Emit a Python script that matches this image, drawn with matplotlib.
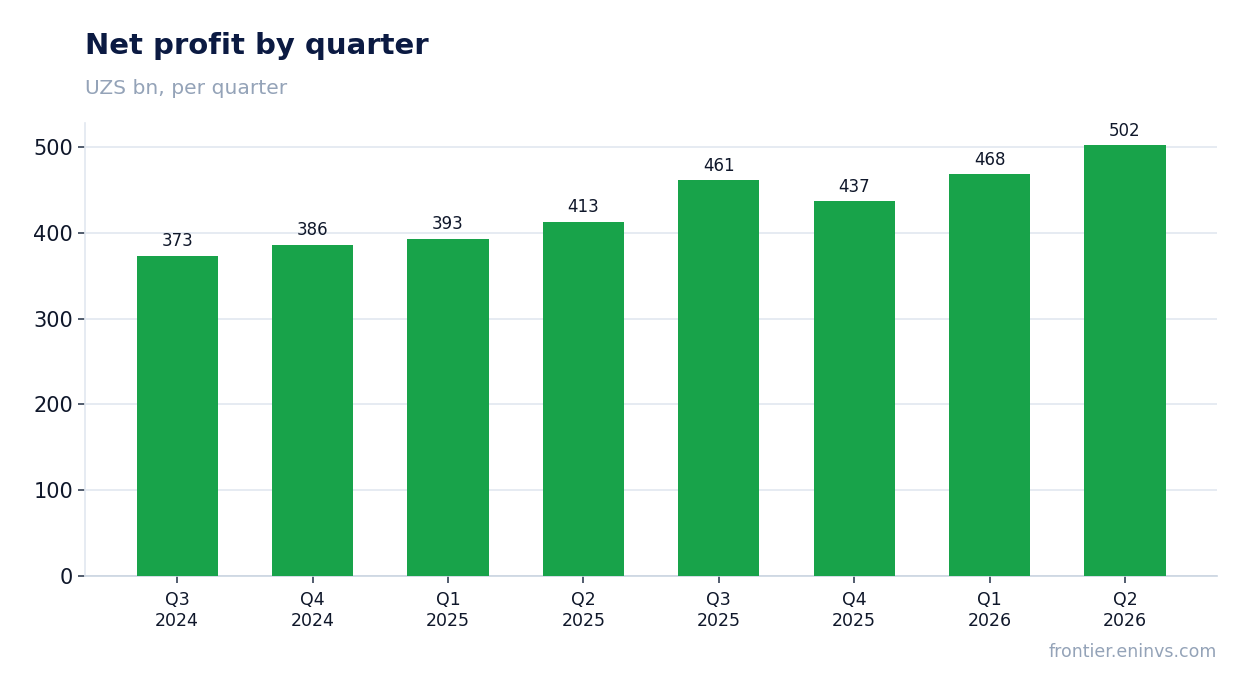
import matplotlib
matplotlib.use("Agg")
import matplotlib.pyplot as plt

categories = ["Q3\n2024", "Q4\n2024", "Q1\n2025", "Q2\n2025", "Q3\n2025", "Q4\n2025", "Q1\n2026", "Q2\n2026"]
values = [373, 386, 393, 413, 461, 437, 468, 502]
yticks = [0, 100, 200, 300, 400, 500]

fig = plt.figure(figsize=(12.47, 6.93), dpi=100)
ax = fig.add_axes([0.0682, 0.1690, 0.976 - 0.0682, 0.8225 - 0.1690])

x = list(range(len(categories)))
bars = ax.bar(x, values, width=0.6, color="#18A34A", zorder=3)
for xi, v in zip(x, values):
    ax.annotate(f"{v}", (xi, v), xytext=(0, 4), textcoords="offset points",
                ha="center", va="bottom", fontsize=12, color="#0F172A")

ax.set_xlim(-0.68, len(categories) - 1 + 0.68)
ax.set_ylim(0, 528)
ax.set_xticks(x)
ax.set_xticklabels(categories, fontsize=12.5, color="#0F172A")
ax.set_yticks(yticks)
ax.set_yticklabels([str(t) for t in yticks], fontsize=15, color="#0F172A")
ax.tick_params(axis="both", colors="#334155", length=5, width=1.2, labelcolor="#0F172A")
ax.tick_params(axis="x", pad=6)
ax.grid(axis="y", color="#E2E8F0", linewidth=1.2, zorder=0)
for s in ["top", "right"]:
    ax.spines[s].set_visible(False)
ax.spines["left"].set_color("#E2E8F0")
ax.spines["bottom"].set_color("#CBD5E1")
ax.spines["left"].set_linewidth(1.2)
ax.spines["bottom"].set_linewidth(1.2)

fig.text(0.0682, 0.934, "Net profit by quarter", fontsize=21, fontweight="bold",
         color="#0B1A42", ha="left", va="center")
fig.text(0.0682, 0.873, "UZS bn, per quarter", fontsize=14.6, color="#94A3B8",
         ha="left", va="center")
fig.text(0.976, 0.059, "frontier.eninvs.com", fontsize=12.5, color="#94A3B8",
         ha="right", va="center")

fig.savefig("out.png", dpi=100)
